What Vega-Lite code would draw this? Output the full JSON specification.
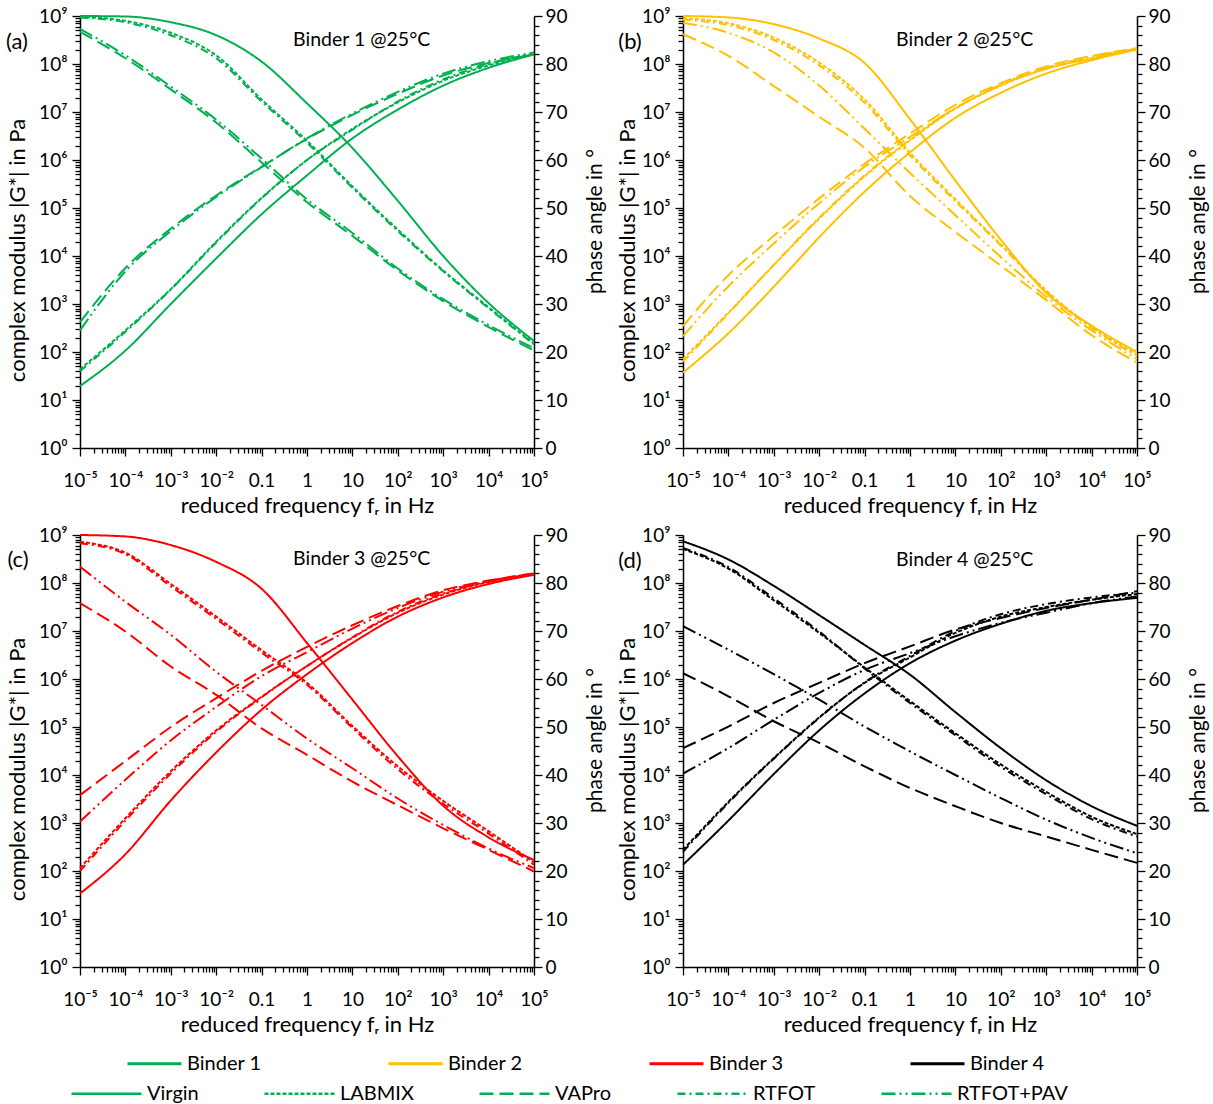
{
"$schema": "https://vega.github.io/schema/vega-lite/v6.json",
"background": "white",
"padding": {"left": 6, "top": 7, "right": 5, "bottom": 0},
"datasets": {"d": [
{"b":"Binder 1","c":"Virgin","f":1e-5,"G":19.5,"p":90},
{"b":"Binder 1","c":"Virgin","f":1e-4,"G":107,"p":89.9},
{"b":"Binder 1","c":"Virgin","f":0.001,"G":1000,"p":88.7},
{"b":"Binder 1","c":"Virgin","f":0.01,"G":8913,"p":86},
{"b":"Binder 1","c":"Virgin","f":0.1,"G":74130,"p":80.5},
{"b":"Binder 1","c":"Virgin","f":1,"G":478600,"p":71.8},
{"b":"Binder 1","c":"Virgin","f":10,"G":2818000,"p":62.5},
{"b":"Binder 1","c":"Virgin","f":100,"G":11220000,"p":51.5},
{"b":"Binder 1","c":"Virgin","f":1000,"G":35480000,"p":40},
{"b":"Binder 1","c":"Virgin","f":10000,"G":83180000,"p":30.2},
{"b":"Binder 1","c":"Virgin","f":100000,"G":158500000,"p":22.3},
{"b":"Binder 1","c":"LABMIX","f":1e-5,"G":43.7,"p":89.8},
{"b":"Binder 1","c":"LABMIX","f":1e-4,"G":282,"p":89},
{"b":"Binder 1","c":"LABMIX","f":0.001,"G":2042,"p":86.5},
{"b":"Binder 1","c":"LABMIX","f":0.01,"G":19950,"p":81.8},
{"b":"Binder 1","c":"LABMIX","f":0.1,"G":162200,"p":72.6},
{"b":"Binder 1","c":"LABMIX","f":1,"G":1000000,"p":64},
{"b":"Binder 1","c":"LABMIX","f":10,"G":4467000,"p":54.5},
{"b":"Binder 1","c":"LABMIX","f":100,"G":15850000,"p":45.5},
{"b":"Binder 1","c":"LABMIX","f":1000,"G":44670000,"p":37},
{"b":"Binder 1","c":"LABMIX","f":10000,"G":93330000,"p":29.3},
{"b":"Binder 1","c":"LABMIX","f":100000,"G":158500000,"p":21.8},
{"b":"Binder 1","c":"RTFOT","f":1e-5,"G":39.8,"p":89.7},
{"b":"Binder 1","c":"RTFOT","f":1e-4,"G":263,"p":88.7},
{"b":"Binder 1","c":"RTFOT","f":0.001,"G":1995,"p":86},
{"b":"Binder 1","c":"RTFOT","f":0.01,"G":19050,"p":81.2},
{"b":"Binder 1","c":"RTFOT","f":0.1,"G":158500,"p":72.2},
{"b":"Binder 1","c":"RTFOT","f":1,"G":1000000,"p":63.6},
{"b":"Binder 1","c":"RTFOT","f":10,"G":4266000,"p":54.2},
{"b":"Binder 1","c":"RTFOT","f":100,"G":16600000,"p":45.2},
{"b":"Binder 1","c":"RTFOT","f":1000,"G":47860000,"p":36.8},
{"b":"Binder 1","c":"RTFOT","f":10000,"G":100000000,"p":29.1},
{"b":"Binder 1","c":"RTFOT","f":100000,"G":166000000,"p":21.6},
{"b":"Binder 1","c":"VAPro","f":1e-5,"G":417,"p":86.7},
{"b":"Binder 1","c":"VAPro","f":1e-4,"G":5623,"p":81.2},
{"b":"Binder 1","c":"VAPro","f":0.001,"G":37150,"p":74.7},
{"b":"Binder 1","c":"VAPro","f":0.01,"G":182000,"p":67.8},
{"b":"Binder 1","c":"VAPro","f":0.1,"G":724400,"p":59.5},
{"b":"Binder 1","c":"VAPro","f":1,"G":2754000,"p":51.2},
{"b":"Binder 1","c":"VAPro","f":10,"G":8710000,"p":44.2},
{"b":"Binder 1","c":"VAPro","f":100,"G":23990000,"p":37},
{"b":"Binder 1","c":"VAPro","f":1000,"G":57540000,"p":30.6},
{"b":"Binder 1","c":"VAPro","f":10000,"G":104700000,"p":25.2},
{"b":"Binder 1","c":"VAPro","f":100000,"G":158500000,"p":20.3},
{"b":"Binder 1","c":"RTFOT+PAV","f":1e-5,"G":282,"p":87.3},
{"b":"Binder 1","c":"RTFOT+PAV","f":1e-4,"G":4786,"p":81.8},
{"b":"Binder 1","c":"RTFOT+PAV","f":0.001,"G":33110,"p":75.3},
{"b":"Binder 1","c":"RTFOT+PAV","f":0.01,"G":169800,"p":68.4},
{"b":"Binder 1","c":"RTFOT+PAV","f":0.1,"G":707900,"p":60.3},
{"b":"Binder 1","c":"RTFOT+PAV","f":1,"G":2818000,"p":51.8},
{"b":"Binder 1","c":"RTFOT+PAV","f":10,"G":9333000,"p":44.8},
{"b":"Binder 1","c":"RTFOT+PAV","f":100,"G":26300000,"p":37.4},
{"b":"Binder 1","c":"RTFOT+PAV","f":1000,"G":63100000,"p":31},
{"b":"Binder 1","c":"RTFOT+PAV","f":10000,"G":114800000,"p":25.6},
{"b":"Binder 1","c":"RTFOT+PAV","f":100000,"G":173800000,"p":20.8},
{"b":"Binder 2","c":"Virgin","f":1e-5,"G":37.2,"p":90},
{"b":"Binder 2","c":"Virgin","f":1e-4,"G":245,"p":89.7},
{"b":"Binder 2","c":"Virgin","f":0.001,"G":2291,"p":88.3},
{"b":"Binder 2","c":"Virgin","f":0.01,"G":24550,"p":85.3},
{"b":"Binder 2","c":"Virgin","f":0.1,"G":218800,"p":80.2},
{"b":"Binder 2","c":"Virgin","f":1,"G":1445000,"p":68.5},
{"b":"Binder 2","c":"Virgin","f":10,"G":7586000,"p":55.7},
{"b":"Binder 2","c":"Virgin","f":100,"G":25120000,"p":43.4},
{"b":"Binder 2","c":"Virgin","f":1000,"G":63100000,"p":32.3},
{"b":"Binder 2","c":"Virgin","f":10000,"G":120200000,"p":25.5},
{"b":"Binder 2","c":"Virgin","f":100000,"G":199500000,"p":20},
{"b":"Binder 2","c":"LABMIX","f":1e-5,"G":70.8,"p":89.5},
{"b":"Binder 2","c":"LABMIX","f":1e-4,"G":661,"p":88.5},
{"b":"Binder 2","c":"LABMIX","f":0.001,"G":6457,"p":85.5},
{"b":"Binder 2","c":"LABMIX","f":0.01,"G":60260,"p":80.3},
{"b":"Binder 2","c":"LABMIX","f":0.1,"G":457100,"p":72.6},
{"b":"Binder 2","c":"LABMIX","f":1,"G":2570000,"p":61.5},
{"b":"Binder 2","c":"LABMIX","f":10,"G":11750000,"p":51.8},
{"b":"Binder 2","c":"LABMIX","f":100,"G":35480000,"p":42.4},
{"b":"Binder 2","c":"LABMIX","f":1000,"G":79430000,"p":32.8},
{"b":"Binder 2","c":"LABMIX","f":10000,"G":131800000,"p":25.2},
{"b":"Binder 2","c":"LABMIX","f":100000,"G":208900000,"p":19.5},
{"b":"Binder 2","c":"RTFOT","f":1e-5,"G":63.1,"p":89.2},
{"b":"Binder 2","c":"RTFOT","f":1e-4,"G":631,"p":88.1},
{"b":"Binder 2","c":"RTFOT","f":0.001,"G":6607,"p":85},
{"b":"Binder 2","c":"RTFOT","f":0.01,"G":63100,"p":79.7},
{"b":"Binder 2","c":"RTFOT","f":0.1,"G":478600,"p":71.9},
{"b":"Binder 2","c":"RTFOT","f":1,"G":2692000,"p":61},
{"b":"Binder 2","c":"RTFOT","f":10,"G":12020000,"p":51.4},
{"b":"Binder 2","c":"RTFOT","f":100,"G":36310000,"p":42.2},
{"b":"Binder 2","c":"RTFOT","f":1000,"G":79430000,"p":32.6},
{"b":"Binder 2","c":"RTFOT","f":10000,"G":131800000,"p":25},
{"b":"Binder 2","c":"RTFOT","f":100000,"G":208900000,"p":19.2},
{"b":"Binder 2","c":"VAPro","f":1e-5,"G":347,"p":86.2},
{"b":"Binder 2","c":"VAPro","f":1e-4,"G":3981,"p":81.7},
{"b":"Binder 2","c":"VAPro","f":0.001,"G":26300,"p":75.4},
{"b":"Binder 2","c":"VAPro","f":0.01,"G":158500,"p":69},
{"b":"Binder 2","c":"VAPro","f":0.1,"G":831800,"p":62.5},
{"b":"Binder 2","c":"VAPro","f":1,"G":3548000,"p":52.5},
{"b":"Binder 2","c":"VAPro","f":10,"G":14130000,"p":45},
{"b":"Binder 2","c":"VAPro","f":100,"G":39810000,"p":38},
{"b":"Binder 2","c":"VAPro","f":1000,"G":89130000,"p":30.8},
{"b":"Binder 2","c":"VAPro","f":10000,"G":147900000,"p":23.5},
{"b":"Binder 2","c":"VAPro","f":100000,"G":213800000,"p":17.8},
{"b":"Binder 2","c":"RTFOT+PAV","f":1e-5,"G":214,"p":88.6},
{"b":"Binder 2","c":"RTFOT+PAV","f":1e-4,"G":2344,"p":86.5},
{"b":"Binder 2","c":"RTFOT+PAV","f":0.001,"G":18200,"p":82.4},
{"b":"Binder 2","c":"RTFOT+PAV","f":0.01,"G":125900,"p":75.5},
{"b":"Binder 2","c":"RTFOT+PAV","f":0.1,"G":724400,"p":66.5},
{"b":"Binder 2","c":"RTFOT+PAV","f":1,"G":3020000,"p":57.3},
{"b":"Binder 2","c":"RTFOT+PAV","f":10,"G":12020000,"p":48.5},
{"b":"Binder 2","c":"RTFOT+PAV","f":100,"G":37150000,"p":39.8},
{"b":"Binder 2","c":"RTFOT+PAV","f":1000,"G":83180000,"p":31.5},
{"b":"Binder 2","c":"RTFOT+PAV","f":10000,"G":141300000,"p":24.5},
{"b":"Binder 2","c":"RTFOT+PAV","f":100000,"G":208900000,"p":18.5},
{"b":"Binder 3","c":"Virgin","f":1e-5,"G":33.9,"p":90},
{"b":"Binder 3","c":"Virgin","f":1e-4,"G":224,"p":89.7},
{"b":"Binder 3","c":"Virgin","f":0.001,"G":2951,"p":87.9},
{"b":"Binder 3","c":"Virgin","f":0.01,"G":29510,"p":84.4},
{"b":"Binder 3","c":"Virgin","f":0.1,"G":229100,"p":78.8},
{"b":"Binder 3","c":"Virgin","f":1,"G":1259000,"p":67.5},
{"b":"Binder 3","c":"Virgin","f":10,"G":5623000,"p":55.7},
{"b":"Binder 3","c":"Virgin","f":100,"G":19950000,"p":43.9},
{"b":"Binder 3","c":"Virgin","f":1000,"G":50120000,"p":33.6},
{"b":"Binder 3","c":"Virgin","f":10000,"G":95500000,"p":27},
{"b":"Binder 3","c":"Virgin","f":100000,"G":147900000,"p":22.3},
{"b":"Binder 3","c":"LABMIX","f":1e-5,"G":115,"p":88.6},
{"b":"Binder 3","c":"LABMIX","f":1e-4,"G":1259,"p":86.3},
{"b":"Binder 3","c":"LABMIX","f":0.001,"G":12020,"p":79.8},
{"b":"Binder 3","c":"LABMIX","f":0.01,"G":85110,"p":73},
{"b":"Binder 3","c":"LABMIX","f":0.1,"G":426600,"p":66},
{"b":"Binder 3","c":"LABMIX","f":1,"G":1862000,"p":59.2},
{"b":"Binder 3","c":"LABMIX","f":10,"G":7244000,"p":50.2},
{"b":"Binder 3","c":"LABMIX","f":100,"G":23990000,"p":41.8},
{"b":"Binder 3","c":"LABMIX","f":1000,"G":57540000,"p":34.6},
{"b":"Binder 3","c":"LABMIX","f":10000,"G":104700000,"p":28.3},
{"b":"Binder 3","c":"LABMIX","f":100000,"G":151400000,"p":21.8},
{"b":"Binder 3","c":"RTFOT","f":1e-5,"G":100,"p":88.3},
{"b":"Binder 3","c":"RTFOT","f":1e-4,"G":1122,"p":86},
{"b":"Binder 3","c":"RTFOT","f":0.001,"G":10720,"p":79.3},
{"b":"Binder 3","c":"RTFOT","f":0.01,"G":79430,"p":72.5},
{"b":"Binder 3","c":"RTFOT","f":0.1,"G":416900,"p":65.5},
{"b":"Binder 3","c":"RTFOT","f":1,"G":1862000,"p":58.8},
{"b":"Binder 3","c":"RTFOT","f":10,"G":7413000,"p":49.8},
{"b":"Binder 3","c":"RTFOT","f":100,"G":25120000,"p":41.2},
{"b":"Binder 3","c":"RTFOT","f":1000,"G":60260000,"p":34},
{"b":"Binder 3","c":"RTFOT","f":10000,"G":107200000,"p":27.8},
{"b":"Binder 3","c":"RTFOT","f":100000,"G":151400000,"p":21.3},
{"b":"Binder 3","c":"VAPro","f":1e-5,"G":3802,"p":75.8},
{"b":"Binder 3","c":"VAPro","f":1e-4,"G":19500,"p":69.9},
{"b":"Binder 3","c":"VAPro","f":0.001,"G":100000,"p":62.6},
{"b":"Binder 3","c":"VAPro","f":0.01,"G":398100,"p":56.7},
{"b":"Binder 3","c":"VAPro","f":0.1,"G":1479000,"p":49.7},
{"b":"Binder 3","c":"VAPro","f":1,"G":4677000,"p":44.2},
{"b":"Binder 3","c":"VAPro","f":10,"G":13180000,"p":38.6},
{"b":"Binder 3","c":"VAPro","f":100,"G":33110000,"p":33.7},
{"b":"Binder 3","c":"VAPro","f":1000,"G":70790000,"p":28.9},
{"b":"Binder 3","c":"VAPro","f":10000,"G":112200000,"p":24.4},
{"b":"Binder 3","c":"VAPro","f":100000,"G":158500000,"p":19.9},
{"b":"Binder 3","c":"RTFOT+PAV","f":1e-5,"G":1072,"p":83.4},
{"b":"Binder 3","c":"RTFOT+PAV","f":1e-4,"G":7943,"p":76.1},
{"b":"Binder 3","c":"RTFOT+PAV","f":0.001,"G":52480,"p":69.2},
{"b":"Binder 3","c":"RTFOT+PAV","f":0.01,"G":263000,"p":61.5},
{"b":"Binder 3","c":"RTFOT+PAV","f":0.1,"G":1148000,"p":54.6},
{"b":"Binder 3","c":"RTFOT+PAV","f":1,"G":3631000,"p":47.6},
{"b":"Binder 3","c":"RTFOT+PAV","f":10,"G":11220000,"p":41.4},
{"b":"Binder 3","c":"RTFOT+PAV","f":100,"G":30200000,"p":35.1},
{"b":"Binder 3","c":"RTFOT+PAV","f":1000,"G":66070000,"p":29.6},
{"b":"Binder 3","c":"RTFOT+PAV","f":10000,"G":109600000,"p":24.7},
{"b":"Binder 3","c":"RTFOT+PAV","f":100000,"G":158500000,"p":20.6},
{"b":"Binder 4","c":"Virgin","f":1e-5,"G":135,"p":88.7},
{"b":"Binder 4","c":"Virgin","f":1e-4,"G":1122,"p":84.9},
{"b":"Binder 4","c":"Virgin","f":0.001,"G":10470,"p":79.4},
{"b":"Binder 4","c":"Virgin","f":0.01,"G":85110,"p":73.3},
{"b":"Binder 4","c":"Virgin","f":0.1,"G":501200,"p":67.1},
{"b":"Binder 4","c":"Virgin","f":1,"G":2138000,"p":60.9},
{"b":"Binder 4","c":"Virgin","f":10,"G":6310000,"p":53.1},
{"b":"Binder 4","c":"Virgin","f":100,"G":14130000,"p":45.6},
{"b":"Binder 4","c":"Virgin","f":1000,"G":26300000,"p":38.9},
{"b":"Binder 4","c":"Virgin","f":10000,"G":38020000,"p":33.5},
{"b":"Binder 4","c":"Virgin","f":100000,"G":48980000,"p":29.4},
{"b":"Binder 4","c":"LABMIX","f":1e-5,"G":275,"p":87.1},
{"b":"Binder 4","c":"LABMIX","f":1e-4,"G":2754,"p":83},
{"b":"Binder 4","c":"LABMIX","f":0.001,"G":22390,"p":76.4},
{"b":"Binder 4","c":"LABMIX","f":0.01,"G":158500,"p":69.6},
{"b":"Binder 4","c":"LABMIX","f":0.1,"G":831800,"p":62.4},
{"b":"Binder 4","c":"LABMIX","f":1,"G":2818000,"p":55.4},
{"b":"Binder 4","c":"LABMIX","f":10,"G":9120000,"p":48.7},
{"b":"Binder 4","c":"LABMIX","f":100,"G":19950000,"p":42.2},
{"b":"Binder 4","c":"LABMIX","f":1000,"G":31620000,"p":36.5},
{"b":"Binder 4","c":"LABMIX","f":10000,"G":44670000,"p":31.3},
{"b":"Binder 4","c":"LABMIX","f":100000,"G":58880000,"p":27.7},
{"b":"Binder 4","c":"RTFOT","f":1e-5,"G":251,"p":87.3},
{"b":"Binder 4","c":"RTFOT","f":1e-4,"G":2630,"p":83.3},
{"b":"Binder 4","c":"RTFOT","f":0.001,"G":21880,"p":76.8},
{"b":"Binder 4","c":"RTFOT","f":0.01,"G":154900,"p":69.9},
{"b":"Binder 4","c":"RTFOT","f":0.1,"G":851100,"p":62.2},
{"b":"Binder 4","c":"RTFOT","f":1,"G":3020000,"p":55},
{"b":"Binder 4","c":"RTFOT","f":10,"G":10000000,"p":48.3},
{"b":"Binder 4","c":"RTFOT","f":100,"G":22390000,"p":41.7},
{"b":"Binder 4","c":"RTFOT","f":1000,"G":36310000,"p":36},
{"b":"Binder 4","c":"RTFOT","f":10000,"G":50120000,"p":30.8},
{"b":"Binder 4","c":"RTFOT","f":100000,"G":63100000,"p":27.2},
{"b":"Binder 4","c":"VAPro","f":1e-5,"G":36310,"p":61.2},
{"b":"Binder 4","c":"VAPro","f":1e-4,"G":102300,"p":56.4},
{"b":"Binder 4","c":"VAPro","f":0.001,"G":316200,"p":51.2},
{"b":"Binder 4","c":"VAPro","f":0.01,"G":831800,"p":46.7},
{"b":"Binder 4","c":"VAPro","f":0.1,"G":2138000,"p":41.8},
{"b":"Binder 4","c":"VAPro","f":1,"G":4786000,"p":37.3},
{"b":"Binder 4","c":"VAPro","f":10,"G":10720000,"p":33.5},
{"b":"Binder 4","c":"VAPro","f":100,"G":18620000,"p":30},
{"b":"Binder 4","c":"VAPro","f":1000,"G":30200000,"p":27.2},
{"b":"Binder 4","c":"VAPro","f":10000,"G":44670000,"p":24.4},
{"b":"Binder 4","c":"VAPro","f":100000,"G":67610000,"p":21.7},
{"b":"Binder 4","c":"RTFOT+PAV","f":1e-5,"G":10720,"p":71},
{"b":"Binder 4","c":"RTFOT+PAV","f":1e-4,"G":36310,"p":66.1},
{"b":"Binder 4","c":"RTFOT+PAV","f":0.001,"G":141300,"p":61},
{"b":"Binder 4","c":"RTFOT+PAV","f":0.01,"G":512900,"p":55.7},
{"b":"Binder 4","c":"RTFOT+PAV","f":0.1,"G":1549000,"p":50.1},
{"b":"Binder 4","c":"RTFOT+PAV","f":1,"G":3467000,"p":44.9},
{"b":"Binder 4","c":"RTFOT+PAV","f":10,"G":7762000,"p":40},
{"b":"Binder 4","c":"RTFOT+PAV","f":100,"G":14790000,"p":35.2},
{"b":"Binder 4","c":"RTFOT+PAV","f":1000,"G":23990000,"p":30.7},
{"b":"Binder 4","c":"RTFOT+PAV","f":10000,"G":38020000,"p":26.9},
{"b":"Binder 4","c":"RTFOT+PAV","f":100000,"G":52480000,"p":23.7}
]},
"spacing": 10,
"vconcat": [
{"hconcat": [
{"width": 454, "height": 432,
 "layer": [
  {"layer": [
   {"data": {"values": [{}]}, "mark": {"type": "rect", "fill": "white"},
    "encoding": {"x": {"datum": 0.13, "type": "quantitative", "scale": {"type": "log", "domain": [0.00001, 100000]}}, "x2": {"datum": 90000},
                 "y": {"datum": 900000000, "type": "quantitative", "scale": {"type": "log", "domain": [1, 1000000000]}}, "y2": {"datum": 103000000}}},
   {"data": {"name": "d"}, "transform": [{"filter": "datum.b === 'Binder 1'"}],
    "mark": {"type": "line", "interpolate": "monotone", "strokeWidth": 2},
    "encoding": {
     "x": {"field": "f", "type": "quantitative", "scale": {"type": "log", "domain": [0.00001, 100000]},
       "axis": {"title": "reduced frequency fᵣ in Hz", "labelFlush": false, "labelOverlap": false, "labelPadding": 15, "titlePadding": 5,
        "values": [1e-5,2e-5,3e-5,4e-5,5e-5,6e-5,7e-5,8e-5,9e-5,1e-4,2e-4,3e-4,4e-4,5e-4,6e-4,7e-4,8e-4,9e-4,0.001,0.002,0.003,0.004,0.005,0.006,0.007,0.008,0.009,0.01,0.02,0.03,0.04,0.05,0.06,0.07,0.08,0.09,0.1,0.2,0.3,0.4,0.5,0.6,0.7,0.8,0.9,1,2,3,4,5,6,7,8,9,10,20,30,40,50,60,70,80,90,100,200,300,400,500,600,700,800,900,1000,2000,3000,4000,5000,6000,7000,8000,9000,10000,20000,30000,40000,50000,60000,70000,80000,90000,100000],
        "labelExpr": "abs(log(datum.value)/LN10 - round(log(datum.value)/LN10)) < 0.01 ? ['10⁻⁵','10⁻⁴','10⁻³','10⁻²','0.1','1','10','10²','10³','10⁴','10⁵'][round(log(datum.value)/LN10)+5] : ''",
        "tickSize": {"condition": {"test": "abs(log(datum.value)/LN10 - round(log(datum.value)/LN10)) < 0.01", "value": 8}, "value": 5},
        "gridOpacity": {"condition": {"test": "abs(log(datum.value)/LN10 - round(log(datum.value)/LN10)) < 0.01", "value": 1}, "value": 0}}},
     "y": {"field": "G", "type": "quantitative", "scale": {"type": "log", "domain": [1, 1000000000]},
       "axis": {"title": "complex modulus |G*| in Pa", "titleX": -51, "titleY": 234, "labelFlush": false, "labelOverlap": false, "labelPadding": 5, "titlePadding": 6,
        "values": [1,2,3,4,5,6,7,8,9,10,20,30,40,50,60,70,80,90,100,200,300,400,500,600,700,800,900,1000,2000,3000,4000,5000,6000,7000,8000,9000,10000,20000,30000,40000,50000,60000,70000,80000,90000,100000,200000,300000,400000,500000,600000,700000,800000,900000,1000000,2000000,3000000,4000000,5000000,6000000,7000000,8000000,9000000,10000000,20000000,30000000,40000000,50000000,60000000,70000000,80000000,90000000,100000000,200000000,300000000,400000000,500000000,600000000,700000000,800000000,900000000,1000000000],
        "labelExpr": "abs(log(datum.value)/LN10 - round(log(datum.value)/LN10)) < 0.01 ? '10' + ['⁰','¹','²','³','⁴','⁵','⁶','⁷','⁸','⁹'][round(log(datum.value)/LN10)] : ''",
        "tickSize": {"condition": {"test": "abs(log(datum.value)/LN10 - round(log(datum.value)/LN10)) < 0.01", "value": 8}, "value": 5},
        "gridOpacity": {"condition": {"test": "abs(log(datum.value)/LN10 - round(log(datum.value)/LN10)) < 0.01", "value": 1}, "value": 0}}},
     "color": {"field": "b", "type": "nominal", "scale": {"domain": ["Binder 1","Binder 2","Binder 3","Binder 4"], "range": ["#00B050","#FFC000","#FF0000","#000000"]},
       "legend": {"title": null, "orient": "none", "legendX": 46, "legendY": 1019, "direction": "horizontal", "columns": 4, "columnPadding": 120, "symbolType": "stroke", "symbolSize": 2916, "symbolStrokeWidth": 3, "labelFontSize": 20, "labelFont": "Lato", "labelColor": "#000"}},
     "strokeDash": {"field": "c", "type": "nominal", "scale": {"domain": ["Virgin","LABMIX","VAPro","RTFOT","RTFOT+PAV"], "range": [[1,0],[4,2],[14,6],[8,4,2,4],[14,4,2,4,2,4]]},
       "legend": {"title": null, "orient": "none", "legendX": -10, "legendY": 1041, "direction": "horizontal", "columns": 5, "columnPadding": 60, "symbolType": "stroke", "symbolSize": 4900, "symbolStrokeWidth": 2.5, "symbolStrokeColor": "#00B050", "labelFontSize": 20, "labelFont": "Lato", "labelColor": "#000"}}
    }},
   {"data": {"values": [{}]}, "mark": {"type": "text", "fontSize": 19.5, "align": "center", "baseline": "middle", "color": "#000"},
    "encoding": {"x": {"datum": 16, "type": "quantitative"}, "y": {"datum": 316000000, "type": "quantitative"}, "text": {"value": "Binder 1 @25°C"}}},
   {"data": {"values": [{}]}, "mark": {"type": "text", "fontSize": 22, "align": "center", "baseline": "middle", "dx": -63, "color": "#000"},
    "encoding": {"x": {"datum": 0.00001, "type": "quantitative"}, "y": {"datum": 290000000, "type": "quantitative"}, "text": {"value": "(a)"}}}
  ]},
  {"data": {"name": "d"}, "transform": [{"filter": "datum.b === 'Binder 1'"}],
   "mark": {"type": "line", "interpolate": "monotone", "strokeWidth": 2},
   "encoding": {
    "x": {"field": "f", "type": "quantitative", "scale": {"type": "log", "domain": [0.00001, 100000]}},
    "y": {"field": "p", "type": "quantitative", "scale": {"domain": [0, 90], "nice": false},
      "axis": {"orient": "right", "title": "phase angle in °", "titleFontSize": 21, "titleX": 50, "titleY": 205, "grid": false, "labelFlush": false, "labelOverlap": false, "labelPadding": 3, "titlePadding": 8, "titleAngle": 270, "titleBaseline": "top",
       "values": [0,2,4,6,8,10,12,14,16,18,20,22,24,26,28,30,32,34,36,38,40,42,44,46,48,50,52,54,56,58,60,62,64,66,68,70,72,74,76,78,80,82,84,86,88,90],
       "labelExpr": "datum.value % 10 === 0 ? datum.label : ''",
       "tickSize": {"condition": {"test": "datum.value % 10 === 0", "value": 8}, "value": 5}}},
    "color": {"field": "b", "type": "nominal"},
    "strokeDash": {"field": "c", "type": "nominal"}
   }}
 ],
 "resolve": {"scale": {"y": "independent"}, "axis": {"y": "independent"}}
},
{"width": 454, "height": 432,
 "layer": [
  {"layer": [
   {"data": {"values": [{}]}, "mark": {"type": "rect", "fill": "white"},
    "encoding": {"x": {"datum": 0.13, "type": "quantitative", "scale": {"type": "log", "domain": [0.00001, 100000]}}, "x2": {"datum": 90000},
                 "y": {"datum": 900000000, "type": "quantitative", "scale": {"type": "log", "domain": [1, 1000000000]}}, "y2": {"datum": 103000000}}},
   {"data": {"name": "d"}, "transform": [{"filter": "datum.b === 'Binder 2'"}],
    "mark": {"type": "line", "interpolate": "monotone", "strokeWidth": 2},
    "encoding": {
     "x": {"field": "f", "type": "quantitative", "scale": {"type": "log", "domain": [0.00001, 100000]},
       "axis": {"title": "reduced frequency fᵣ in Hz", "labelFlush": false, "labelOverlap": false, "labelPadding": 15, "titlePadding": 5,
        "values": [1e-5,2e-5,3e-5,4e-5,5e-5,6e-5,7e-5,8e-5,9e-5,1e-4,2e-4,3e-4,4e-4,5e-4,6e-4,7e-4,8e-4,9e-4,0.001,0.002,0.003,0.004,0.005,0.006,0.007,0.008,0.009,0.01,0.02,0.03,0.04,0.05,0.06,0.07,0.08,0.09,0.1,0.2,0.3,0.4,0.5,0.6,0.7,0.8,0.9,1,2,3,4,5,6,7,8,9,10,20,30,40,50,60,70,80,90,100,200,300,400,500,600,700,800,900,1000,2000,3000,4000,5000,6000,7000,8000,9000,10000,20000,30000,40000,50000,60000,70000,80000,90000,100000],
        "labelExpr": "abs(log(datum.value)/LN10 - round(log(datum.value)/LN10)) < 0.01 ? ['10⁻⁵','10⁻⁴','10⁻³','10⁻²','0.1','1','10','10²','10³','10⁴','10⁵'][round(log(datum.value)/LN10)+5] : ''",
        "tickSize": {"condition": {"test": "abs(log(datum.value)/LN10 - round(log(datum.value)/LN10)) < 0.01", "value": 8}, "value": 5},
        "gridOpacity": {"condition": {"test": "abs(log(datum.value)/LN10 - round(log(datum.value)/LN10)) < 0.01", "value": 1}, "value": 0}}},
     "y": {"field": "G", "type": "quantitative", "scale": {"type": "log", "domain": [1, 1000000000]},
       "axis": {"title": "complex modulus |G*| in Pa", "titleX": -44, "titleY": 234, "labelFlush": false, "labelOverlap": false, "labelPadding": 5, "titlePadding": 6,
        "values": [1,2,3,4,5,6,7,8,9,10,20,30,40,50,60,70,80,90,100,200,300,400,500,600,700,800,900,1000,2000,3000,4000,5000,6000,7000,8000,9000,10000,20000,30000,40000,50000,60000,70000,80000,90000,100000,200000,300000,400000,500000,600000,700000,800000,900000,1000000,2000000,3000000,4000000,5000000,6000000,7000000,8000000,9000000,10000000,20000000,30000000,40000000,50000000,60000000,70000000,80000000,90000000,100000000,200000000,300000000,400000000,500000000,600000000,700000000,800000000,900000000,1000000000],
        "labelExpr": "abs(log(datum.value)/LN10 - round(log(datum.value)/LN10)) < 0.01 ? '10' + ['⁰','¹','²','³','⁴','⁵','⁶','⁷','⁸','⁹'][round(log(datum.value)/LN10)] : ''",
        "tickSize": {"condition": {"test": "abs(log(datum.value)/LN10 - round(log(datum.value)/LN10)) < 0.01", "value": 8}, "value": 5},
        "gridOpacity": {"condition": {"test": "abs(log(datum.value)/LN10 - round(log(datum.value)/LN10)) < 0.01", "value": 1}, "value": 0}}},
     "color": {"field": "b", "type": "nominal"},
     "strokeDash": {"field": "c", "type": "nominal"}
    }},
   {"data": {"values": [{}]}, "mark": {"type": "text", "fontSize": 19.5, "align": "center", "baseline": "middle", "color": "#000"},
    "encoding": {"x": {"datum": 16, "type": "quantitative"}, "y": {"datum": 316000000, "type": "quantitative"}, "text": {"value": "Binder 2 @25°C"}}},
   {"data": {"values": [{}]}, "mark": {"type": "text", "fontSize": 22, "align": "center", "baseline": "middle", "dx": -53, "color": "#000"},
    "encoding": {"x": {"datum": 0.00001, "type": "quantitative"}, "y": {"datum": 290000000, "type": "quantitative"}, "text": {"value": "(b)"}}}
  ]},
  {"data": {"name": "d"}, "transform": [{"filter": "datum.b === 'Binder 2'"}],
   "mark": {"type": "line", "interpolate": "monotone", "strokeWidth": 2},
   "encoding": {
    "x": {"field": "f", "type": "quantitative", "scale": {"type": "log", "domain": [0.00001, 100000]}},
    "y": {"field": "p", "type": "quantitative", "scale": {"domain": [0, 90], "nice": false},
      "axis": {"orient": "right", "title": "phase angle in °", "titleFontSize": 21, "titleX": 50, "titleY": 205, "grid": false, "labelFlush": false, "labelOverlap": false, "labelPadding": 3, "titlePadding": 8, "titleAngle": 270, "titleBaseline": "top",
       "values": [0,2,4,6,8,10,12,14,16,18,20,22,24,26,28,30,32,34,36,38,40,42,44,46,48,50,52,54,56,58,60,62,64,66,68,70,72,74,76,78,80,82,84,86,88,90],
       "labelExpr": "datum.value % 10 === 0 ? datum.label : ''",
       "tickSize": {"condition": {"test": "datum.value % 10 === 0", "value": 8}, "value": 5}}},
    "color": {"field": "b", "type": "nominal"},
    "strokeDash": {"field": "c", "type": "nominal"}
   }}
 ],
 "resolve": {"scale": {"y": "independent"}, "axis": {"y": "independent"}}
}
], "spacing": 149, "bounds": "flush"},
{"hconcat": [
{"width": 454, "height": 432,
 "layer": [
  {"layer": [
   {"data": {"values": [{}]}, "mark": {"type": "rect", "fill": "white"},
    "encoding": {"x": {"datum": 0.13, "type": "quantitative", "scale": {"type": "log", "domain": [0.00001, 100000]}}, "x2": {"datum": 90000},
                 "y": {"datum": 900000000, "type": "quantitative", "scale": {"type": "log", "domain": [1, 1000000000]}}, "y2": {"datum": 103000000}}},
   {"data": {"name": "d"}, "transform": [{"filter": "datum.b === 'Binder 3'"}],
    "mark": {"type": "line", "interpolate": "monotone", "strokeWidth": 2},
    "encoding": {
     "x": {"field": "f", "type": "quantitative", "scale": {"type": "log", "domain": [0.00001, 100000]},
       "axis": {"title": "reduced frequency fᵣ in Hz", "labelFlush": false, "labelOverlap": false, "labelPadding": 15, "titlePadding": 5,
        "values": [1e-5,2e-5,3e-5,4e-5,5e-5,6e-5,7e-5,8e-5,9e-5,1e-4,2e-4,3e-4,4e-4,5e-4,6e-4,7e-4,8e-4,9e-4,0.001,0.002,0.003,0.004,0.005,0.006,0.007,0.008,0.009,0.01,0.02,0.03,0.04,0.05,0.06,0.07,0.08,0.09,0.1,0.2,0.3,0.4,0.5,0.6,0.7,0.8,0.9,1,2,3,4,5,6,7,8,9,10,20,30,40,50,60,70,80,90,100,200,300,400,500,600,700,800,900,1000,2000,3000,4000,5000,6000,7000,8000,9000,10000,20000,30000,40000,50000,60000,70000,80000,90000,100000],
        "labelExpr": "abs(log(datum.value)/LN10 - round(log(datum.value)/LN10)) < 0.01 ? ['10⁻⁵','10⁻⁴','10⁻³','10⁻²','0.1','1','10','10²','10³','10⁴','10⁵'][round(log(datum.value)/LN10)+5] : ''",
        "tickSize": {"condition": {"test": "abs(log(datum.value)/LN10 - round(log(datum.value)/LN10)) < 0.01", "value": 8}, "value": 5},
        "gridOpacity": {"condition": {"test": "abs(log(datum.value)/LN10 - round(log(datum.value)/LN10)) < 0.01", "value": 1}, "value": 0}}},
     "y": {"field": "G", "type": "quantitative", "scale": {"type": "log", "domain": [1, 1000000000]},
       "axis": {"title": "complex modulus |G*| in Pa", "titleX": -51, "titleY": 234, "labelFlush": false, "labelOverlap": false, "labelPadding": 5, "titlePadding": 6,
        "values": [1,2,3,4,5,6,7,8,9,10,20,30,40,50,60,70,80,90,100,200,300,400,500,600,700,800,900,1000,2000,3000,4000,5000,6000,7000,8000,9000,10000,20000,30000,40000,50000,60000,70000,80000,90000,100000,200000,300000,400000,500000,600000,700000,800000,900000,1000000,2000000,3000000,4000000,5000000,6000000,7000000,8000000,9000000,10000000,20000000,30000000,40000000,50000000,60000000,70000000,80000000,90000000,100000000,200000000,300000000,400000000,500000000,600000000,700000000,800000000,900000000,1000000000],
        "labelExpr": "abs(log(datum.value)/LN10 - round(log(datum.value)/LN10)) < 0.01 ? '10' + ['⁰','¹','²','³','⁴','⁵','⁶','⁷','⁸','⁹'][round(log(datum.value)/LN10)] : ''",
        "tickSize": {"condition": {"test": "abs(log(datum.value)/LN10 - round(log(datum.value)/LN10)) < 0.01", "value": 8}, "value": 5},
        "gridOpacity": {"condition": {"test": "abs(log(datum.value)/LN10 - round(log(datum.value)/LN10)) < 0.01", "value": 1}, "value": 0}}},
     "color": {"field": "b", "type": "nominal"},
     "strokeDash": {"field": "c", "type": "nominal"}
    }},
   {"data": {"values": [{}]}, "mark": {"type": "text", "fontSize": 19.5, "align": "center", "baseline": "middle", "color": "#000"},
    "encoding": {"x": {"datum": 16, "type": "quantitative"}, "y": {"datum": 316000000, "type": "quantitative"}, "text": {"value": "Binder 3 @25°C"}}},
   {"data": {"values": [{}]}, "mark": {"type": "text", "fontSize": 22, "align": "center", "baseline": "middle", "dx": -62, "color": "#000"},
    "encoding": {"x": {"datum": 0.00001, "type": "quantitative"}, "y": {"datum": 300000000, "type": "quantitative"}, "text": {"value": "(c)"}}}
  ]},
  {"data": {"name": "d"}, "transform": [{"filter": "datum.b === 'Binder 3'"}],
   "mark": {"type": "line", "interpolate": "monotone", "strokeWidth": 2},
   "encoding": {
    "x": {"field": "f", "type": "quantitative", "scale": {"type": "log", "domain": [0.00001, 100000]}},
    "y": {"field": "p", "type": "quantitative", "scale": {"domain": [0, 90], "nice": false},
      "axis": {"orient": "right", "title": "phase angle in °", "titleFontSize": 21, "titleX": 50, "titleY": 205, "grid": false, "labelFlush": false, "labelOverlap": false, "labelPadding": 3, "titlePadding": 8, "titleAngle": 270, "titleBaseline": "top",
       "values": [0,2,4,6,8,10,12,14,16,18,20,22,24,26,28,30,32,34,36,38,40,42,44,46,48,50,52,54,56,58,60,62,64,66,68,70,72,74,76,78,80,82,84,86,88,90],
       "labelExpr": "datum.value % 10 === 0 ? datum.label : ''",
       "tickSize": {"condition": {"test": "datum.value % 10 === 0", "value": 8}, "value": 5}}},
    "color": {"field": "b", "type": "nominal"},
    "strokeDash": {"field": "c", "type": "nominal"}
   }}
 ],
 "resolve": {"scale": {"y": "independent"}, "axis": {"y": "independent"}}
},
{"width": 454, "height": 432,
 "layer": [
  {"layer": [
   {"data": {"values": [{}]}, "mark": {"type": "rect", "fill": "white"},
    "encoding": {"x": {"datum": 0.2, "type": "quantitative", "scale": {"type": "log", "domain": [0.00001, 100000]}}, "x2": {"datum": 1600},
                 "y": {"datum": 900000000, "type": "quantitative", "scale": {"type": "log", "domain": [1, 1000000000]}}, "y2": {"datum": 92000000}}},
   {"data": {"name": "d"}, "transform": [{"filter": "datum.b === 'Binder 4'"}],
    "mark": {"type": "line", "interpolate": "monotone", "strokeWidth": 2},
    "encoding": {
     "x": {"field": "f", "type": "quantitative", "scale": {"type": "log", "domain": [0.00001, 100000]},
       "axis": {"title": "reduced frequency fᵣ in Hz", "labelFlush": false, "labelOverlap": false, "labelPadding": 15, "titlePadding": 5,
        "values": [1e-5,2e-5,3e-5,4e-5,5e-5,6e-5,7e-5,8e-5,9e-5,1e-4,2e-4,3e-4,4e-4,5e-4,6e-4,7e-4,8e-4,9e-4,0.001,0.002,0.003,0.004,0.005,0.006,0.007,0.008,0.009,0.01,0.02,0.03,0.04,0.05,0.06,0.07,0.08,0.09,0.1,0.2,0.3,0.4,0.5,0.6,0.7,0.8,0.9,1,2,3,4,5,6,7,8,9,10,20,30,40,50,60,70,80,90,100,200,300,400,500,600,700,800,900,1000,2000,3000,4000,5000,6000,7000,8000,9000,10000,20000,30000,40000,50000,60000,70000,80000,90000,100000],
        "labelExpr": "abs(log(datum.value)/LN10 - round(log(datum.value)/LN10)) < 0.01 ? ['10⁻⁵','10⁻⁴','10⁻³','10⁻²','0.1','1','10','10²','10³','10⁴','10⁵'][round(log(datum.value)/LN10)+5] : ''",
        "tickSize": {"condition": {"test": "abs(log(datum.value)/LN10 - round(log(datum.value)/LN10)) < 0.01", "value": 8}, "value": 5},
        "gridOpacity": {"condition": {"test": "abs(log(datum.value)/LN10 - round(log(datum.value)/LN10)) < 0.01", "value": 1}, "value": 0}}},
     "y": {"field": "G", "type": "quantitative", "scale": {"type": "log", "domain": [1, 1000000000]},
       "axis": {"title": "complex modulus |G*| in Pa", "titleX": -44, "titleY": 234, "labelFlush": false, "labelOverlap": false, "labelPadding": 5, "titlePadding": 6,
        "values": [1,2,3,4,5,6,7,8,9,10,20,30,40,50,60,70,80,90,100,200,300,400,500,600,700,800,900,1000,2000,3000,4000,5000,6000,7000,8000,9000,10000,20000,30000,40000,50000,60000,70000,80000,90000,100000,200000,300000,400000,500000,600000,700000,800000,900000,1000000,2000000,3000000,4000000,5000000,6000000,7000000,8000000,9000000,10000000,20000000,30000000,40000000,50000000,60000000,70000000,80000000,90000000,100000000,200000000,300000000,400000000,500000000,600000000,700000000,800000000,900000000,1000000000],
        "labelExpr": "abs(log(datum.value)/LN10 - round(log(datum.value)/LN10)) < 0.01 ? '10' + ['⁰','¹','²','³','⁴','⁵','⁶','⁷','⁸','⁹'][round(log(datum.value)/LN10)] : ''",
        "tickSize": {"condition": {"test": "abs(log(datum.value)/LN10 - round(log(datum.value)/LN10)) < 0.01", "value": 8}, "value": 5},
        "gridOpacity": {"condition": {"test": "abs(log(datum.value)/LN10 - round(log(datum.value)/LN10)) < 0.01", "value": 1}, "value": 0}}},
     "color": {"field": "b", "type": "nominal"},
     "strokeDash": {"field": "c", "type": "nominal"}
    }},
   {"data": {"values": [{}]}, "mark": {"type": "text", "fontSize": 19.5, "align": "center", "baseline": "middle", "color": "#000"},
    "encoding": {"x": {"datum": 16, "type": "quantitative"}, "y": {"datum": 300000000, "type": "quantitative"}, "text": {"value": "Binder 4 @25°C"}}},
   {"data": {"values": [{}]}, "mark": {"type": "text", "fontSize": 22, "align": "center", "baseline": "middle", "dx": -53, "color": "#000"},
    "encoding": {"x": {"datum": 0.00001, "type": "quantitative"}, "y": {"datum": 290000000, "type": "quantitative"}, "text": {"value": "(d)"}}}
  ]},
  {"data": {"name": "d"}, "transform": [{"filter": "datum.b === 'Binder 4'"}],
   "mark": {"type": "line", "interpolate": "monotone", "strokeWidth": 2},
   "encoding": {
    "x": {"field": "f", "type": "quantitative", "scale": {"type": "log", "domain": [0.00001, 100000]}},
    "y": {"field": "p", "type": "quantitative", "scale": {"domain": [0, 90], "nice": false},
      "axis": {"orient": "right", "title": "phase angle in °", "titleFontSize": 21, "titleX": 50, "titleY": 205, "grid": false, "labelFlush": false, "labelOverlap": false, "labelPadding": 3, "titlePadding": 8, "titleAngle": 270, "titleBaseline": "top",
       "values": [0,2,4,6,8,10,12,14,16,18,20,22,24,26,28,30,32,34,36,38,40,42,44,46,48,50,52,54,56,58,60,62,64,66,68,70,72,74,76,78,80,82,84,86,88,90],
       "labelExpr": "datum.value % 10 === 0 ? datum.label : ''",
       "tickSize": {"condition": {"test": "datum.value % 10 === 0", "value": 8}, "value": 5}}},
    "color": {"field": "b", "type": "nominal"},
    "strokeDash": {"field": "c", "type": "nominal"}
   }}
 ],
 "resolve": {"scale": {"y": "independent"}, "axis": {"y": "independent"}}
}
], "spacing": 149, "bounds": "flush"}
],
"config": {
 "view": {"stroke": null},
 "font": "Lato",
 "axis": {"labelFont": "Lato", "titleFont": "Lato", "labelFontSize": 19, "titleFontSize": 22, "titleFontWeight": "normal", "labelColor": "#000", "titleColor": "#000",
          "domainColor": "#000", "domainWidth": 1.5, "tickColor": "#000", "tickWidth": 1.3, "gridColor": "#d9d9d9", "gridWidth": 1.5},
 "text": {"font": "Lato"}
}
}
